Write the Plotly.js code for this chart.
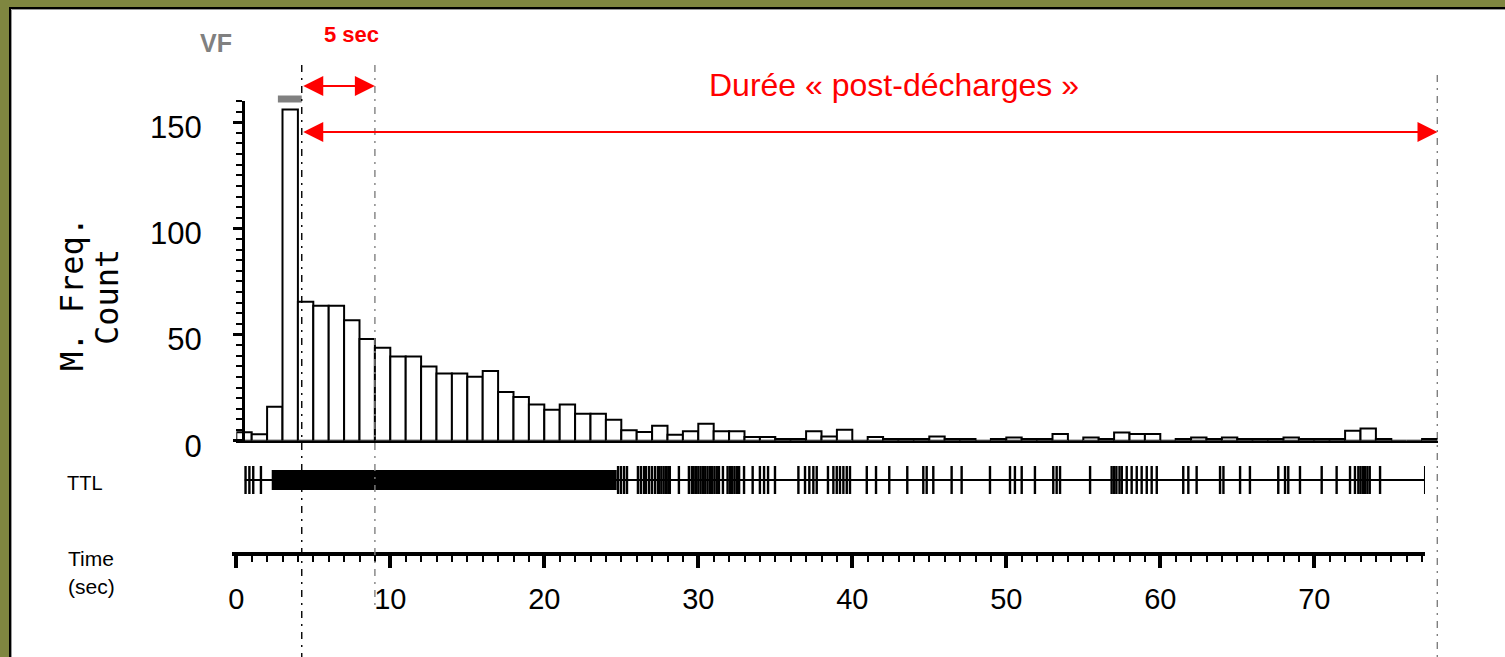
<!DOCTYPE html>
<html>
<head>
<meta charset="utf-8">
<script src="https://cdn.plot.ly/plotly-3.0.1.min.js"></script>
<style>html,body{margin:0;padding:0;background:#7f8640;}#chart{width:1505px;height:657px;}</style>
</head>
<body>
<div id="chart"></div>
<script>
// ---------------- DATA ----------------
// Histogram: counts per 1-second bin, starting at t = 0 s
const binStartSec = 0;
const binWidthSec = 1;
const histCounts = [
  4, 3, 16, 156, 65.5, 63.6, 63.6, 56.7, 47.9, 43.8,
  39.6, 39.6, 34.9, 31.7, 31.7, 30.1, 32.8, 22.9, 20.6, 17,
  14.6, 17, 12.7, 12.7, 9.9, 4.9, 4.1, 7.1, 2.8, 4.4,
  8.0, 4.4, 4.4, 1.7, 1.7, 0.8, 0.8, 4.4, 2, 5.2,
  0, 1.7, 0.8, 0.8, 0.8, 2, 0.8, 0.8, 0, 0.8,
  1.5, 0.8, 0.8, 3.1, 0, 1.5, 0.8, 3.9, 3.1, 3.1,
  0, 0.8, 1.5, 0.8, 1.5, 0.8, 0.8, 0.8, 1.5, 0.8,
  0.8, 0.8, 4.7, 5.8, 0.8, 0, 0, 0.8
];
const yTickVals = [0, 50, 100, 150];
const xTickLabelsStep = 10;

// TTL spike train (seconds)
const ttlRecord = [0.55, 77.2];          // start / end of TTL trace
const ttlDenseBurst = [2.3, 24.7];       // spikes too dense to resolve
const ttlSpikes = [
  0.6, 0.85, 1.1, 1.6,
  24.79, 24.98, 25.18, 25.37, 26.08, 26.27, 26.47, 26.6, 26.8, 26.99, 27.19, 27.38,
  27.45, 27.6, 27.75, 27.9, 28.05, 28.15, 28.74, 29.39, 29.58,
  29.7, 29.85, 30.0, 30.15, 30.3, 30.45, 30.6, 30.75, 30.9, 31.05, 31.2,
  31.34, 31.6, 31.9, 32.05, 32.2, 32.35, 32.5, 32.65, 32.97, 33.53,
  34.0, 34.27, 34.53, 34.98, 36.5, 36.93, 37.21, 37.47, 37.69,
  38.42, 38.77, 38.99, 39.2, 39.42, 39.64, 39.85, 40.94, 41.54, 42.4, 43.57,
  44.61, 44.83, 45.26, 46.45, 47.1, 48.94, 50.24, 50.56, 51.0, 51.86,
  53.05, 53.27, 53.49, 55.44, 56.84, 57.0, 57.15, 57.35, 57.5,
  57.82, 58.14, 58.47, 58.79, 59.12, 59.44, 59.77, 61.49, 61.82, 62.36,
  63.88, 64.1, 65.18, 65.82, 67.66, 68.1, 68.31, 69.07, 70.48, 71.45,
  72.32, 72.64, 72.86, 73.0, 73.15, 73.3, 73.45, 73.6, 74.27, 77.2
];

// Markers of events (seconds)
const vfPeriod = [2.7, 4.25];
const postDischargeStart = 4.25;
const fiveSecEnd = 9.0;
const postDischargeEnd = 78.0;

// ---------------- LAYOUT HELPERS ----------------
const W = 1505, H = 657;
const ORIGIN_PX = 236.3, PX_PER_SEC = 15.4;
const px = p => p / W;
const py = p => 1 - p / H;
const rangeFor = (a, b) => [(a - ORIGIN_PX) / PX_PER_SEC, (b - ORIGIN_PX) / PX_PER_SEC];

const SANS = 'Liberation Sans, Arial, sans-serif';
const MONO = 'DejaVu Sans Mono, monospace';
const RED = '#ff0000';
const GRAY = '#808080';
const DASHDOT = '7px,6px,2px,6px';

const binCenters = histCounts.map((_, i) => binStartSec + (i + 0.5) * binWidthSec);

const traces = [
  {
    type: 'bar', x: binCenters, y: histCounts, width: binWidthSec,
    marker: {color: 'white', line: {color: 'black', width: 2}},
    xaxis: 'x', yaxis: 'y', hoverinfo: 'skip'
  },
  {
    type: 'scatter', mode: 'lines', x: ttlRecord, y: [0, 0],
    line: {color: 'black', width: 2}, xaxis: 'x2', yaxis: 'y2', hoverinfo: 'skip'
  },
  {
    type: 'scatter', mode: 'lines', x: ttlDenseBurst, y: [0, 0],
    line: {color: 'black', width: 20}, xaxis: 'x2', yaxis: 'y2', hoverinfo: 'skip'
  },
  {
    type: 'scatter', mode: 'markers', x: ttlSpikes, y: ttlSpikes.map(() => 0),
    marker: {symbol: 'line-ns', size: 20, line: {color: 'black', width: 2.4}},
    xaxis: 'x2', yaxis: 'y2', hoverinfo: 'skip'
  }
];

const layout = {
  width: W, height: H,
  margin: {l: 0, r: 0, t: 0, b: 0, pad: 0},
  paper_bgcolor: '#7f8640',
  plot_bgcolor: 'rgba(0,0,0,0)',
  showlegend: false,
  font: {family: SANS, color: 'black'},
  bargap: 0,
  xaxis: {
    domain: [px(236.3), px(1437.5)], range: rangeFor(236.3, 1437.5),
    anchor: 'y', showline: true, linecolor: 'black', linewidth: 2.5,
    showticklabels: false, ticks: '', showgrid: false, zeroline: false, fixedrange: true
  },
  yaxis: {
    domain: [py(440.7), py(101)], range: [0, 160],
    anchor: 'free', position: px(243),
    showline: true, linecolor: 'black', linewidth: 2.5,
    tickmode: 'array', tickvals: yTickVals, ticktext: yTickVals.map(String),
    ticks: 'outside', ticklen: 9, tickwidth: 3, tickcolor: 'black',
    minor: {dtick: 5, tick0: 0, ticks: 'outside', ticklen: 6, tickwidth: 2, tickcolor: 'black', showgrid: false},
    tickfont: {family: SANS, size: 31, color: 'black'},
    ticklabelstandoff: 25,
    ticklabelshift: 5,
    showgrid: false, zeroline: false, fixedrange: true
  },
  xaxis2: {
    domain: [px(231.5), px(1425)], range: rangeFor(231.5, 1425),
    anchor: 'free', position: py(554),
    showline: true, linecolor: 'black', linewidth: 4,
    tick0: 0, dtick: xTickLabelsStep, ticks: 'outside', ticklen: 12, tickwidth: 4, tickcolor: 'black',
    minor: {dtick: 1, tick0: 0, ticks: 'outside', ticklen: 6, tickwidth: 2, tickcolor: 'black', showgrid: false},
    tickfont: {family: SANS, size: 29, color: 'black'},
    ticklabelstandoff: 6,
    showgrid: false, zeroline: false, fixedrange: true
  },
  yaxis2: {
    domain: [py(495), py(465)], range: [-1, 1], anchor: 'x2', visible: false, fixedrange: true
  },
  shapes: [
    {type: 'rect', xref: 'paper', yref: 'paper', x0: px(10), x1: px(1510), y0: py(8), y1: py(665),
     fillcolor: 'white', line: {color: 'black', width: 2}, layer: 'below'},
    {type: 'rect', xref: 'paper', yref: 'paper', x0: px(11.5), x1: px(1510), y0: py(9.5), y1: py(665),
     fillcolor: 'rgba(0,0,0,0)', line: {color: '#9a9a9a', width: 1}, layer: 'below'},
    // VF bar
    {type: 'rect', xref: 'x', yref: 'paper', x0: vfPeriod[0], x1: vfPeriod[1], y0: py(102.5), y1: py(95.5),
     fillcolor: GRAY, line: {width: 0}},
    // vertical reference lines
    {type: 'line', xref: 'x', yref: 'paper', x0: postDischargeStart, x1: postDischargeStart, y0: py(65), y1: py(657),
     line: {color: 'black', width: 1.4, dash: DASHDOT}},
    {type: 'line', xref: 'x', yref: 'paper', x0: fiveSecEnd, x1: fiveSecEnd, y0: py(65), y1: py(607),
     line: {color: GRAY, width: 1.4, dash: DASHDOT}},
    {type: 'line', xref: 'x', yref: 'paper', x0: postDischargeEnd, x1: postDischargeEnd, y0: py(75), y1: py(657),
     line: {color: 'black', width: 1.4, dash: DASHDOT}}
  ],
  annotations: [
    {text: '<b>VF</b>', xref: 'paper', yref: 'paper', x: px(215.5), y: py(43), xanchor: 'center', yanchor: 'middle',
     showarrow: false, font: {family: SANS, size: 25, color: GRAY}},
    {text: '<b>5 sec</b>', xref: 'paper', yref: 'paper', x: px(351), y: py(34), xanchor: 'center', yanchor: 'middle',
     showarrow: false, font: {family: SANS, size: 22, color: RED}},
    {text: 'Durée « post-décharges »', xref: 'paper', yref: 'paper', x: px(894), y: py(85), xanchor: 'center', yanchor: 'middle',
     showarrow: false, font: {family: SANS, size: 32, color: RED}},
    // double arrows
    {text: '', xref: 'x', yref: 'paper', x: fiveSecEnd, y: py(86), axref: 'x', ayref: 'pixel', ax: postDischargeStart, ay: 0,
     showarrow: true, arrowside: 'end+start', arrowhead: 2, startarrowhead: 2, arrowsize: 2, startarrowsize: 2,
     arrowwidth: 2, arrowcolor: RED, standoff: 0, startstandoff: 0},
    {text: '', xref: 'x', yref: 'paper', x: postDischargeEnd, y: py(132), axref: 'x', ayref: 'pixel', ax: postDischargeStart, ay: 0,
     showarrow: true, arrowside: 'end+start', arrowhead: 2, startarrowhead: 2, arrowsize: 2, startarrowsize: 2,
     arrowwidth: 2, arrowcolor: RED, standoff: 0, startstandoff: 0},
    // axis titles / row labels
    {text: 'M. Freq.', xref: 'paper', yref: 'paper', x: px(72), y: py(294), xanchor: 'center', yanchor: 'middle',
     textangle: -90, showarrow: false, font: {family: MONO, size: 32, color: 'black'}},
    {text: 'Count', xref: 'paper', yref: 'paper', x: px(107), y: py(297), xanchor: 'center', yanchor: 'middle',
     textangle: -90, showarrow: false, font: {family: MONO, size: 32, color: 'black'}},
    {text: 'TTL', xref: 'paper', yref: 'paper', x: px(85), y: py(483), xanchor: 'center', yanchor: 'middle',
     showarrow: false, font: {family: SANS, size: 20, color: 'black'}},
    {text: 'Time', xref: 'paper', yref: 'paper', x: px(91), y: py(558), xanchor: 'center', yanchor: 'middle',
     showarrow: false, font: {family: SANS, size: 21, color: 'black'}},
    {text: '(sec)', xref: 'paper', yref: 'paper', x: px(91), y: py(586), xanchor: 'center', yanchor: 'middle',
     showarrow: false, font: {family: SANS, size: 21, color: 'black'}}
  ]
};

Plotly.newPlot('chart', traces, layout, {staticPlot: true, displayModeBar: false});
</script>
</body>
</html>
